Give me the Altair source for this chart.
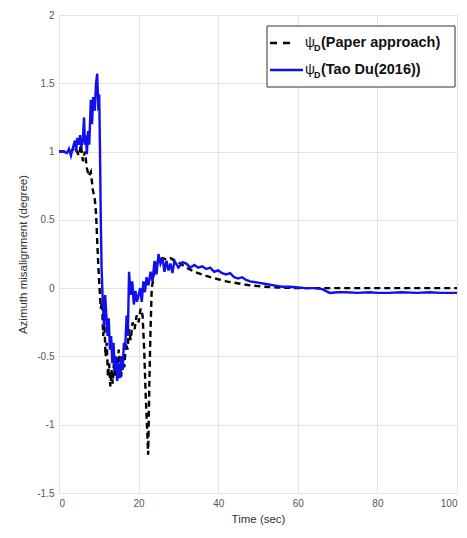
import altair as alt
import pandas as pd

# Blue: Tao Du (2016)
blue_t = [0, 1, 2, 2.5, 3, 3.5, 4, 4.3, 4.6, 5, 5.3, 5.6, 6, 6.3, 6.5, 6.8, 7, 7.3, 7.6,
          8, 8.3, 8.6, 9, 9.3, 9.6, 9.9, 10.1, 10.3, 10.5, 10.7, 11, 11.3, 11.6, 11.9,
          12.2, 12.5, 12.8, 13.1, 13.4, 13.7, 14, 14.3, 14.6, 15, 15.3, 15.6, 16, 16.3,
          16.6, 17, 17.3, 17.6, 18, 18.4, 18.8, 19.2, 19.6, 20, 20.4, 20.8, 21.2, 21.6,
          22, 22.5, 23, 23.5, 24, 24.5, 25, 25.5, 26, 26.5, 27, 27.5, 28, 28.5, 29, 30,
          31, 32, 33, 34, 35, 36, 37, 38, 39, 40, 41, 42, 43, 44, 45, 46, 47, 48, 50, 52,
          54, 56, 58, 60, 62, 64, 66, 67, 68, 70, 72, 75, 78, 80, 83, 86, 90, 93, 96, 100]
blue_y = [1.0, 1.0, 0.99, 1.02, 0.97, 1.03, 1.08, 1.0, 1.1, 1.05, 1.12, 1.03, 1.1, 1.25,
          1.05, 1.12, 0.98, 1.15, 1.05, 1.38, 1.2, 1.4, 1.3, 1.5, 1.57, 1.3, 1.42, 1.0,
          0.5, 0.15, -0.1, -0.28, -0.05, -0.2, -0.35, -0.22, -0.45, -0.35, -0.55, -0.4,
          -0.6, -0.5, -0.68, -0.55, -0.66, -0.5, -0.6, -0.4, -0.45, -0.2, -0.35, 0.12,
          -0.05, 0.05, -0.12, -0.02, -0.1, -0.05, 0.0, -0.1, 0.05, -0.03, 0.08, 0.02,
          0.12, 0.05, 0.2, 0.1, 0.25, 0.18, 0.22, 0.12, 0.2, 0.13, 0.18, 0.11, 0.2, 0.15,
          0.19, 0.18, 0.15, 0.17, 0.15, 0.16, 0.14, 0.15, 0.12, 0.13, 0.11, 0.1, 0.11,
          0.08, 0.07, 0.08, 0.06, 0.05, 0.04, 0.03, 0.02, 0.01, 0.01, 0.005, 0.0, 0.0,
          -0.005, -0.02, -0.035, -0.03, -0.03, -0.035, -0.03, -0.035, -0.035, -0.03,
          -0.035, -0.03, -0.035, -0.035]

# Black dashed: Paper approach
black_t = [0, 2, 3, 4, 5, 5.5, 6, 6.5, 7, 7.5, 8, 8.5, 9, 9.3, 9.6, 9.9, 10.2, 10.5, 10.8,
           11.1, 11.4, 11.7, 12, 12.3, 12.6, 12.9, 13.2, 13.5, 13.8, 14.1, 14.4, 14.7, 15,
           15.3, 15.6, 16, 16.4, 16.8, 17.2, 17.6, 18, 18.5, 19, 19.5, 20, 20.5, 21, 21.4,
           21.8, 22.1, 22.4, 22.7, 23, 23.3, 23.6, 24, 25, 26, 27, 28, 29, 30, 31, 32, 34,
           36, 38, 40, 42, 44, 46, 48, 50, 52, 55, 60, 100]
black_y = [1.0, 1.0, 1.0, 1.03, 0.97, 1.05, 0.93, 1.0, 0.88, 0.82, 0.85, 0.72, 0.65, 0.55,
           0.35, 0.15, 0.0, -0.15, -0.1, -0.35, -0.25, -0.5, -0.4, -0.65, -0.55, -0.72,
           -0.6, -0.7, -0.55, -0.65, -0.5, -0.6, -0.45, -0.55, -0.65, -0.5, -0.58, -0.4,
           -0.45, -0.3, -0.38, -0.25, -0.3, -0.2, -0.25, -0.15, -0.2, -0.45, -0.8, -1.0,
           -1.22, -0.7, -0.3, 0.0, 0.05, 0.15, 0.2, 0.22, 0.21, 0.22, 0.2, 0.19, 0.17, 0.15,
           0.12, 0.1, 0.08, 0.065, 0.05, 0.04, 0.03, 0.02, 0.015, 0.01, 0.005, 0.0, 0.0]

x_ticks = [0, 20, 40, 60, 80, 100]
y_ticks = [-1.5, -1, -0.5, 0, 0.5, 1, 1.5, 2]

W, H = 398, 478
FONT = "Liberation Sans"

df_blue = pd.DataFrame({"t": blue_t, "y": blue_y, "i": range(len(blue_t))})
df_black = pd.DataFrame({"t": black_t, "y": black_y, "i": range(len(black_t))})

xscale = alt.Scale(domain=[0, 100], nice=False, zero=False)
yscale = alt.Scale(domain=[-1.5, 2], nice=False, zero=False)

xaxis = alt.Axis(values=x_ticks, title="Time (sec)", grid=True, gridColor="#e3e3e3",
                 domain=False, ticks=False, labelColor="#555555", labelFont=FONT,
                 labelFontSize=10, titleFont=FONT, titleFontSize=11.5, titleFontWeight="normal",
                 titleColor="#333333", labelPadding=5, titlePadding=5, labelExpr="'' + datum.value")
yaxis = alt.Axis(values=y_ticks, title="Azimuth misalignment (degree)", grid=True,
                 gridColor="#e3e3e3", domain=False, ticks=False, labelColor="#555555",
                 labelFont=FONT, labelFontSize=10, titleFont=FONT, titleFontSize=11.5,
                 titleFontWeight="normal", titleColor="#333333", labelPadding=5,
                 titlePadding=8, labelExpr="'' + datum.value")

black_line = alt.Chart(df_black).mark_line(color="black", strokeWidth=2.4,
                                           strokeDash=[6, 4]).encode(
    x=alt.X("t:Q", scale=xscale, axis=xaxis),
    y=alt.Y("y:Q", scale=yscale, axis=yaxis),
    order="i:Q",
)
blue_line = alt.Chart(df_blue).mark_line(color="#1010ee", strokeWidth=2.4).encode(
    x=alt.X("t:Q", scale=xscale),
    y=alt.Y("y:Q", scale=yscale),
    order="i:Q",
)

one = pd.DataFrame({"a": [0]})
# legend (decoration, pixel positions inside the plot area)
lx0, lx1, ly0, ly1 = 208, 396, 11, 72
legend_box = alt.Chart(one).mark_rect(fill="white", stroke="#333333", strokeWidth=1).encode(
    x=alt.value(lx0), x2=alt.value(lx1), y=alt.value(ly0), y2=alt.value(ly1))
leg_black = alt.Chart(one).mark_rule(color="black", strokeWidth=2.4, strokeDash=[7, 6]).encode(
    x=alt.value(211), x2=alt.value(237), y=alt.value(28))
leg_blue = alt.Chart(one).mark_rule(color="#1010ee", strokeWidth=2.4).encode(
    x=alt.value(211), x2=alt.value(244), y=alt.value(55))

def txt(x, y, s, size, weight="bold"):
    return alt.Chart(one).mark_text(align="left", baseline="middle", font=FONT,
                                    fontSize=size, fontWeight=weight, color="#111111").encode(
        x=alt.value(x), y=alt.value(y), text=alt.value(s))

legend_layers = [
    legend_box, leg_black, leg_blue,
    txt(246, 28, "ψ", 14, "normal"), txt(255, 33, "D", 9), txt(262, 28, "(Paper approach)", 14.5),
    txt(246, 55, "ψ", 14, "normal"), txt(255, 60, "D", 9), txt(262, 55, "(Tao Du(2016))", 14.5),
]

chart = alt.layer(black_line, blue_line, *legend_layers).properties(
    width=W, height=H,
    autosize=alt.AutoSizeParams(type="none"),
    padding={"left": 51, "top": 7, "right": 2, "bottom": 45},
).configure_view(stroke="#444444", strokeWidth=1).configure(background="white")

chart.save("out.html", embed_options={"renderer": "svg", "actions": False})
